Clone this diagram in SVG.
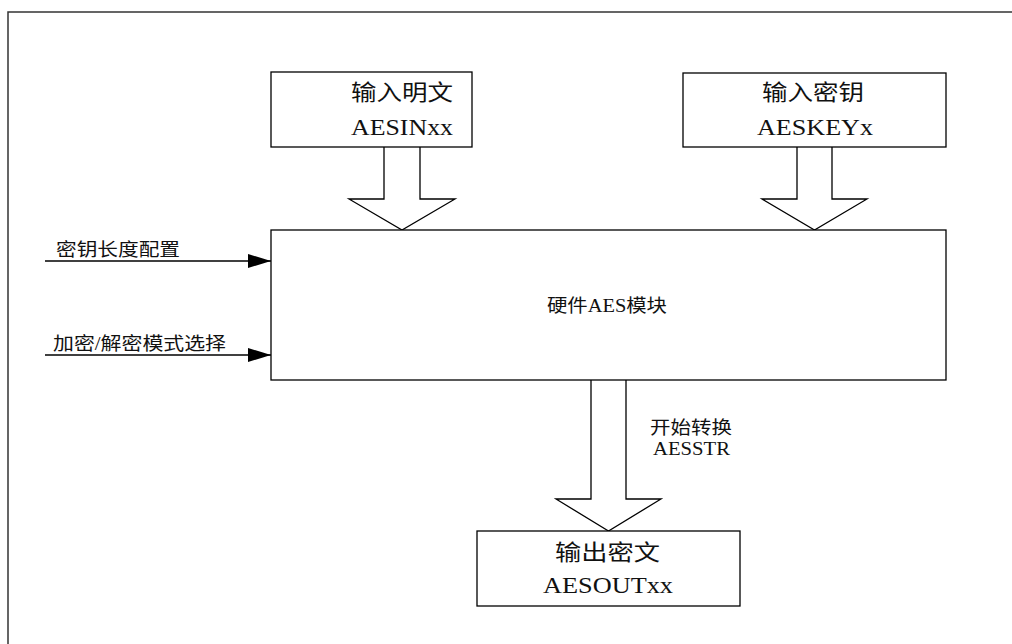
<svg xmlns="http://www.w3.org/2000/svg" width="1012" height="644" viewBox="0 0 1012 644">
<style>
.box{fill:#fff;stroke:#000;stroke-width:1.3}
.blk{fill:#fff;stroke:#000;stroke-width:1.3;stroke-linejoin:miter}
.ln{fill:none;stroke:#000;stroke-width:1.3}
.frame{fill:none;stroke:#333;stroke-width:1.5}
.t{font-family:"Liberation Serif","Noto Sans CJK SC",serif;fill:#111}
.big{font-size:22px;text-anchor:middle}
.lat{font-size:23px;text-anchor:middle}
.sm{font-size:18px}
</style>
<defs>
<marker id="ah" markerWidth="23" markerHeight="14" refX="23" refY="7" orient="auto" markerUnits="userSpaceOnUse">
<path d="M0,0 L23,7 L0,14 Z" fill="#000"/>
</marker>
</defs>
<rect width="1012" height="644" fill="#fff"/>
<path class="frame" d="M8,644 V12 H1012"/>

<g id="connectors">
<path class="blk" d="M384,147 V199 H349 L402,230 L455,199 H420 V147"/>
<path class="blk" d="M797,147 V199 H762 L814.5,230 L867,199 H832 V147"/>
<path class="blk" d="M591,380 V499 H556 L608.5,531 L661,499 H626 V380"/>
<line class="ln" x1="45" y1="261" x2="271" y2="261" marker-end="url(#ah)"/>
<line class="ln" x1="45" y1="355" x2="271" y2="355" marker-end="url(#ah)"/>
<text class="t sm" x="56" y="256" textLength="124" lengthAdjust="spacingAndGlyphs">密钥长度配置</text>
<text class="t sm" x="53" y="350" textLength="173" lengthAdjust="spacingAndGlyphs">加密/解密模式选择</text>
<text class="t sm" x="650" y="434" textLength="82" lengthAdjust="spacingAndGlyphs">开始转换</text>
<text class="t sm" x="653" y="455" textLength="77" lengthAdjust="spacingAndGlyphs">AESSTR</text>
</g>

<g id="node-plaintext">
<rect class="box" x="271" y="72" width="201" height="75"/>
<text class="t big" x="402" y="100" textLength="102" lengthAdjust="spacingAndGlyphs">输入明文</text>
<text class="t lat" x="402" y="135" textLength="102" lengthAdjust="spacingAndGlyphs">AESINxx</text>
</g>

<g id="node-key">
<rect class="box" x="683" y="73" width="263" height="74"/>
<text class="t big" x="813" y="100" textLength="102" lengthAdjust="spacingAndGlyphs">输入密钥</text>
<text class="t lat" x="815" y="135" textLength="116" lengthAdjust="spacingAndGlyphs">AESKEYx</text>
</g>

<g id="node-aes">
<rect class="box" x="271" y="230" width="675" height="150"/>
<text class="t sm" x="547" y="312" textLength="120" lengthAdjust="spacingAndGlyphs">硬件AES模块</text>
</g>

<g id="node-output">
<rect class="box" x="477" y="531" width="263" height="75"/>
<text class="t big" x="607.5" y="560" textLength="105" lengthAdjust="spacingAndGlyphs">输出密文</text>
<text class="t lat" x="608" y="593" textLength="130" lengthAdjust="spacingAndGlyphs">AESOUTxx</text>
</g>
</svg>
